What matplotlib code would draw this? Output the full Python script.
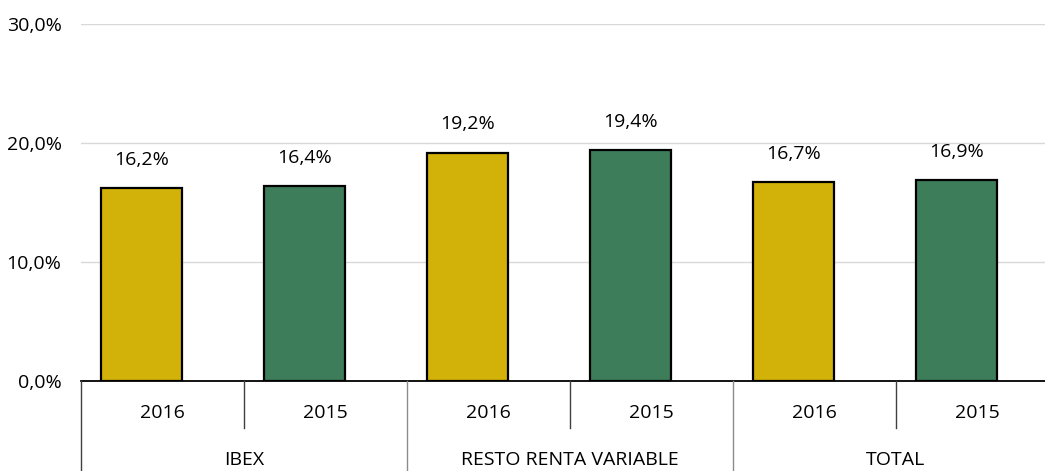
import matplotlib
matplotlib.use("Agg")
import matplotlib.pyplot as plt

years = ["2016", "2015", "2016", "2015", "2016", "2015"]
groups = ["IBEX", "RESTO RENTA VARIABLE", "TOTAL"]
values = [16.2, 16.4, 19.2, 19.4, 16.7, 16.9]
colors = ["#D2B108", "#3D7D5A", "#D2B108", "#3D7D5A", "#D2B108", "#3D7D5A"]
yticks = [0, 10, 20, 30]

plt.rcParams["font.family"] = ["Open Sans", "DejaVu Sans"]
FS = 14

W, H = 1045, 471
fig = plt.figure(figsize=(W / 100, H / 100), dpi=100)
left_px, bottom_px, top_px = 81, 381, 24
ax = fig.add_axes([left_px / W, (H - bottom_px) / H, (W - left_px) / W, (bottom_px - top_px) / H])

slot_px = 163.0
bar_shift = -21 / slot_px  # bars sit a little left of their slot centre
x = list(range(len(values)))
xb = [xi + bar_shift for xi in x]
ax.bar(xb, values, width=0.5, color=colors, edgecolor="black", linewidth=1.6, zorder=3)
for xi, v in zip(xb, values):
    ax.text(xi, v + 1.6, f"{v:.1f}%".replace(".", ","), ha="center", va="bottom", fontsize=FS)

ax.set_xlim(-0.5, -0.5 + (W - left_px) / slot_px)
ax.set_ylim(0, 30)
ax.set_yticks(yticks)
ax.set_yticklabels([f"{t:.1f}%".replace(".", ",") for t in yticks], fontsize=FS)
ax.tick_params(axis="y", length=0, pad=14)
ax.set_xticks([])
ax.yaxis.grid(True, color="#d9d9d9", linewidth=1, zorder=0)
for s in ["top", "right", "left"]:
    ax.spines[s].set_visible(False)
ax.spines["bottom"].set_color("black")
ax.spines["bottom"].set_linewidth(1.3)
ax.spines["bottom"].set_zorder(4)

# two-level category axis below the plot
def ypos(px):
    return (H - px) / H

def xfig(xd):
    return ax.transData.transform((xd, 0))[0] / (fig.dpi * fig.get_figwidth())

for i in range(len(values) + 1):
    xf = xfig(i - 0.5)
    if xf > 1:
        continue
    end = 0 if i % 2 == 0 else ypos(428)
    col = "#404040" if (i % 2 or i == 0) else "#8c8c8c"
    fig.add_artist(plt.Line2D([xf, xf], [ypos(bottom_px), end], color=col, linewidth=1.0))

for xi, yr in zip(x, years):
    fig.text(xfig(xi), ypos(413), yr, ha="center", va="center", fontsize=FS)
for gi, g in enumerate(groups):
    fig.text(xfig(2 * gi + 0.5), ypos(460), g, ha="center", va="center", fontsize=FS)

fig.savefig("out.png", dpi=100)
